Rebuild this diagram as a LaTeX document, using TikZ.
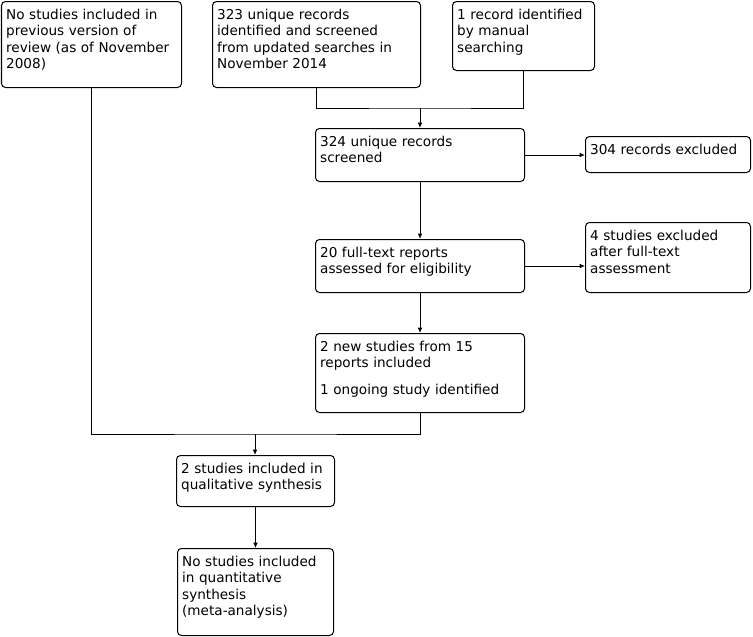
\documentclass[tikz,border=0pt]{standalone}
\usepackage{fontspec}
\setmainfont{DejaVu Sans}
\usetikzlibrary{arrows.meta,positioning,calc}

\begin{document}
\begin{tikzpicture}[
  x=0.75pt, y=-0.75pt,
  every node/.style={font=\fontsize{10.2}{12.2}\selectfont},
  >={Latex[length=4pt,width=3.5pt]},
  box/.style ={draw,line width=0.75pt,rounded corners=3pt,anchor=north west,
               align=left,inner xsep=3.5pt,inner ysep=4.5pt,text height=9pt},
  link/.style={line width=0.75pt}
]
\useasboundingbox (0,0) rectangle (753,636);

% sources
\node[box,text width=128pt,text depth=46.5pt] (prev) at (1,1)
  {No studies included in\\previous version of\\review (as of November\\2008)};
\node[box,text width=149pt,text depth=46.5pt] (srch) at (212,1)
  {323 unique records\\identified and screened\\from updated searches in\\November 2014};
\node[box,text width=99.5pt,text depth=33.75pt] (manual) at (452,1)
  {1 record identified\\by manual\\searching};

% screening
\node[box,text width=149.75pt,text depth=21.75pt] (scr) at (315,128)
  {324 unique records\\screened};
\node[box,text width=116.75pt,text depth=9pt] (excl1) at (585,136)
  {304 records excluded};
\node[box,text width=149.75pt,text depth=21.75pt] (ft) at (315,239)
  {20 full-text reports\\assessed for eligibility};
\node[box,text width=116.75pt,text depth=34.5pt] (excl2) at (585,222)
  {4 studies excluded\\after full-text\\assessment};
\node[box,text width=149.75pt,text depth=41.25pt] (incl) at (315,333)
  {2 new studies from 15\\reports included\\[7.5pt]1 ongoing study identified};

% synthesis
\node[box,text width=111.5pt,text depth=20.25pt] (qual) at (176,455)
  {2 studies included in\\qualitative synthesis};
\node[box,text width=110pt,text depth=47.25pt] (quant) at (177,548)
  {No studies included\\in quantitative\\synthesis\\(meta-analysis)};

\coordinate (join1) at (420,108);
\coordinate (join2) at (255,434);

\draw[link] (srch.south) |- (join1) -| (manual.south);
\draw[link,->] (join1) -- (join1 |- scr.north);
\draw[link,->] (scr.east) -- (scr.east -| excl1.west);
\draw[link,->] (scr.south) -- (ft.north);
\draw[link,->] (ft.east) -- (ft.east -| excl2.west);
\draw[link,->] (ft.south) -- (incl.north);
\draw[link] (prev.south) |- (join2) -| (incl.south);
\draw[link,->] (join2) -- (join2 |- qual.north);
\draw[link,->] (qual.south) -- (quant.north);
\end{tikzpicture}
\end{document}
